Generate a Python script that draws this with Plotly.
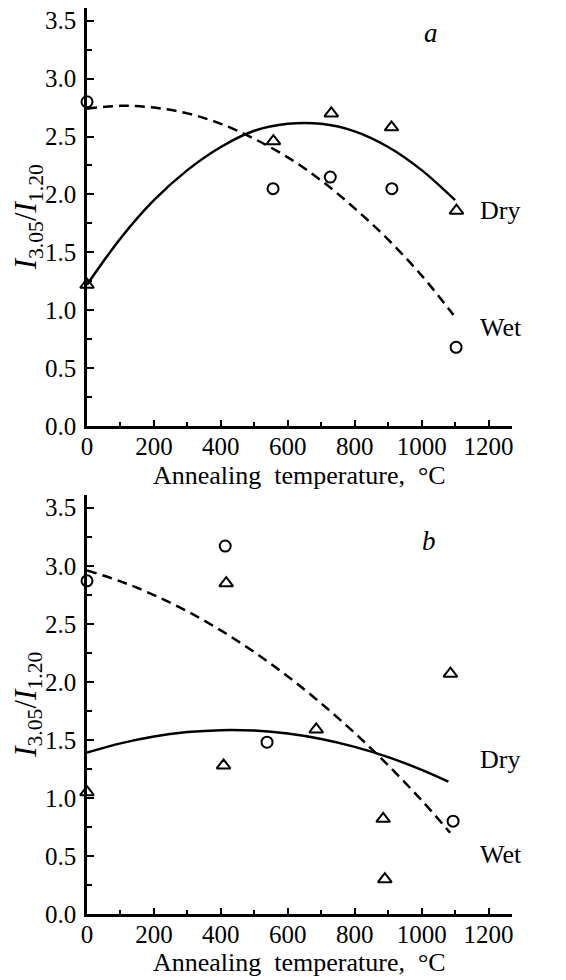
import plotly.graph_objects as go

# ---------------- data ----------------
# Panel a
a_dry_x = [0, 557, 730, 910, 1104]
a_dry_y = [1.22, 2.46, 2.70, 2.58, 1.86]
a_wet_x = [0, 556, 727, 911, 1103]
a_wet_y = [2.80, 2.05, 2.15, 2.05, 0.68]
# fitted curves
a_dry_fit_x = [0, 100, 200, 300, 400, 500, 600, 700, 800, 900, 1000, 1100]
a_dry_fit_y = [1.22, 1.62, 1.95, 2.21, 2.41, 2.55, 2.61, 2.61, 2.545, 2.41, 2.21, 1.95]
a_wet_fit_x = [0, 100, 200, 300, 400, 500, 600, 700, 800, 900, 1000, 1095]
a_wet_fit_y = [2.74, 2.765, 2.75, 2.70, 2.61, 2.48, 2.32, 2.12, 1.88, 1.61, 1.30, 0.96]

# Panel b
b_dry_x = [0, 416, 408, 685, 885, 890, 1086]
b_dry_y = [1.05, 2.85, 1.28, 1.59, 0.82, 0.30, 2.07]
b_wet_x = [0, 413, 538, 1094]
b_wet_y = [2.87, 3.17, 1.48, 0.80]
b_dry_fit_x = [0, 100, 200, 300, 400, 500, 600, 700, 800, 900, 1000, 1080]
b_dry_fit_y = [1.39, 1.47, 1.53, 1.567, 1.584, 1.58, 1.555, 1.508, 1.44, 1.352, 1.242, 1.14]
b_wet_fit_x = [0, 100, 200, 300, 400, 500, 600, 700, 800, 900, 1000, 1085]
b_wet_fit_y = [2.96, 2.866, 2.748, 2.607, 2.443, 2.256, 2.047, 1.814, 1.559, 1.281, 0.979, 0.70]

x_ticks = [0, 200, 400, 600, 800, 1000, 1200]
y_ticks = [0.0, 0.5, 1.0, 1.5, 2.0, 2.5, 3.0, 3.5]

FONT = "Liberation Serif"

fig = go.Figure()

panels = [
    ("x", "y", a_dry_x, a_dry_y, a_wet_x, a_wet_y, a_dry_fit_x, a_dry_fit_y, a_wet_fit_x, a_wet_fit_y),
    ("x2", "y2", b_dry_x, b_dry_y, b_wet_x, b_wet_y, b_dry_fit_x, b_dry_fit_y, b_wet_fit_x, b_wet_fit_y),
]

for xa, ya, dx, dy, wx, wy, dfx, dfy, wfx, wfy in panels:
    fig.add_trace(go.Scatter(x=dfx, y=dfy, mode="lines", line=dict(color="black", width=2.5, shape="spline"),
                             xaxis=xa, yaxis=ya, showlegend=False, cliponaxis=False))
    fig.add_trace(go.Scatter(x=wfx, y=wfy, mode="lines",
                             line=dict(color="black", width=2.5, shape="spline", dash="10px,6px"),
                             xaxis=xa, yaxis=ya, showlegend=False, cliponaxis=False))
    fig.add_trace(go.Scatter(x=dx, y=dy, mode="markers",
                             marker=dict(symbol="triangle-up-open", size=12, color="black", line=dict(width=2, color="black")),
                             xaxis=xa, yaxis=ya, showlegend=False, cliponaxis=False))
    fig.add_trace(go.Scatter(x=wx, y=wy, mode="markers",
                             marker=dict(symbol="circle-open", size=11, color="black", line=dict(width=2, color="black")),
                             xaxis=xa, yaxis=ya, showlegend=False, cliponaxis=False))

xaxis_common = dict(
    range=[0, 1270], tickvals=x_ticks, ticks="inside", ticklen=6, tickwidth=1.8, tickcolor="black",
    showline=True, linecolor="black", linewidth=2.5, showgrid=False, zeroline=False,
    tickfont=dict(family=FONT, size=25, color="black"),
    minor=dict(dtick=100, tick0=0, ticks="inside", ticklen=4, tickwidth=1.8, tickcolor="black"),
    ticklabelstandoff=-4,
)
yaxis_common = dict(
    range=[0, 3.61], tickvals=y_ticks, tickformat=".1f", ticks="inside", ticklen=7, tickwidth=1.8, tickcolor="black",
    showline=True, linecolor="black", linewidth=2.5, showgrid=False, zeroline=False,
    tickfont=dict(family=FONT, size=25, color="black"),
    minor=dict(dtick=0.25, tick0=0, ticks="inside", ticklen=5, tickwidth=1.8, tickcolor="black"),
    ticklabelstandoff=3,
)

fig.update_layout(
    width=566, height=980,
    margin=dict(l=87, r=54, t=8, b=66),
    plot_bgcolor="white", paper_bgcolor="white",
    xaxis=dict(**xaxis_common, anchor="y", domain=[0, 1]),
    yaxis=dict(**yaxis_common, anchor="x", domain=[0.5386, 1.0]),
    xaxis2=dict(**xaxis_common, anchor="y2", domain=[0, 1]),
    yaxis2=dict(**yaxis_common, anchor="x2", domain=[0.0, 0.4625]),
)

ytitle = "<i>I</i><sub>3.05</sub>/<i>I</i><sub>1.20</sub>"
xtitle = "Annealing\u2002temperature,\u2002°C"
ann = []
for yc in [(0.5386 + 1.0) / 2, 0.4625 / 2]:
    ann.append(dict(text=ytitle, xref="paper", yref="paper", x=-0.138, y=yc, xanchor="center", yanchor="middle",
                    textangle=-90, showarrow=False, font=dict(family=FONT, size=31, color="black")))
for yc in [0.4845, -0.0535]:
    ann.append(dict(text=xtitle, xref="paper", yref="paper", x=0.5, y=yc, xanchor="center", yanchor="middle",
                    showarrow=False, font=dict(family=FONT, size=26, color="black")))
ann += [
    dict(text="<i>a</i>", x=1027, y=3.39, xref="x", yref="y", showarrow=False, font=dict(family=FONT, size=27, color="black")),
    dict(text="Dry", x=1167, y=1.86, xref="x", yref="y", xanchor="left", showarrow=False, font=dict(family=FONT, size=26, color="black")),
    dict(text="Wet", x=1167, y=0.85, xref="x", yref="y", xanchor="left", showarrow=False, font=dict(family=FONT, size=26, color="black")),
    dict(text="<i>b</i>", x=1021, y=3.21, xref="x2", yref="y2", showarrow=False, font=dict(family=FONT, size=27, color="black")),
    dict(text="Dry", x=1167, y=1.33, xref="x2", yref="y2", xanchor="left", showarrow=False, font=dict(family=FONT, size=26, color="black")),
    dict(text="Wet", x=1167, y=0.51, xref="x2", yref="y2", xanchor="left", showarrow=False, font=dict(family=FONT, size=26, color="black")),
]
fig.update_layout(annotations=ann)

fig.write_html("out.html")
